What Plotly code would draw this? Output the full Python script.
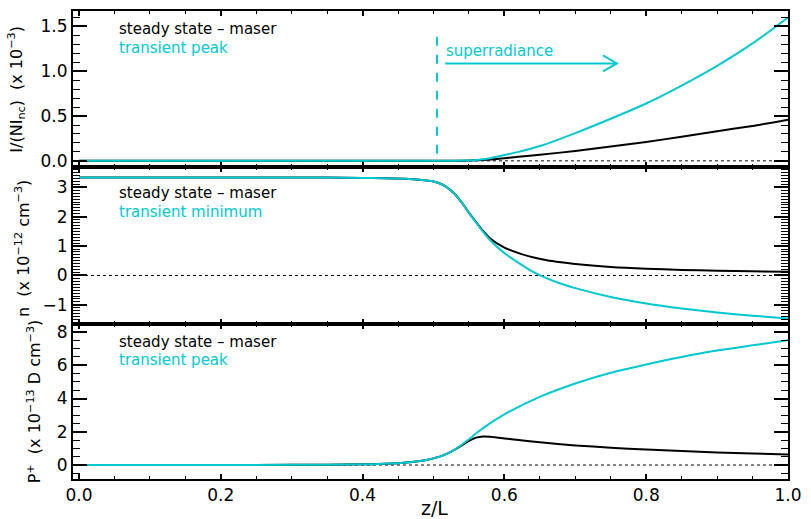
import plotly.graph_objects as go
from plotly.subplots import make_subplots

# ---- intensity I/(N I_nc), units of 1e-3 ----
z_int = [0.0, 0.1, 0.2, 0.3, 0.4, 0.45, 0.5, 0.52, 0.54, 0.56, 0.58, 0.6, 0.62,
         0.65, 0.7, 0.75, 0.8, 0.85, 0.9, 0.95, 1.0]
int_steady = [0, 0, 0, 0, 0, 0, 0, 0.0, 0.002, 0.006, 0.015, 0.03, 0.045,
              0.068, 0.11, 0.16, 0.21, 0.27, 0.33, 0.39, 0.46]
int_transient = [0, 0, 0, 0, 0, 0, 0, 0.0, 0.003, 0.01, 0.03, 0.065, 0.1,
                 0.165, 0.31, 0.47, 0.64, 0.84, 1.06, 1.31, 1.6]

# ---- inversion n, units of 1e-12 cm^-3 ----
z_n = [0.0, 0.1, 0.2, 0.3, 0.35, 0.4, 0.43, 0.46, 0.48, 0.5, 0.51, 0.52, 0.53,
       0.54, 0.55, 0.56, 0.57, 0.58, 0.6, 0.62, 0.64, 0.66, 0.68, 0.7, 0.75,
       0.8, 0.85, 0.9, 0.95, 1.0]
n_steady = [3.33, 3.33, 3.33, 3.33, 3.33, 3.32, 3.31, 3.29, 3.26, 3.2, 3.12,
            2.98, 2.77, 2.48, 2.14, 1.82, 1.52, 1.26, 0.95, 0.76, 0.62, 0.52,
            0.45, 0.39, 0.29, 0.23, 0.19, 0.16, 0.14, 0.13]
n_transient = [3.33, 3.33, 3.33, 3.33, 3.33, 3.32, 3.31, 3.29, 3.26, 3.2, 3.12,
               2.98, 2.77, 2.48, 2.13, 1.8, 1.48, 1.2, 0.76, 0.43, 0.13, -0.1,
               -0.28, -0.43, -0.73, -0.95, -1.12, -1.26, -1.37, -1.46]

# ---- polarization P+, units of 1e-13 D cm^-3 ----
z_p = [0.0, 0.1, 0.2, 0.3, 0.35, 0.4, 0.43, 0.45, 0.47, 0.49, 0.5, 0.51, 0.52,
       0.53, 0.54, 0.55, 0.56, 0.57, 0.58, 0.6, 0.62, 0.65, 0.7, 0.75, 0.8,
       0.85, 0.9, 0.95, 1.0]
p_steady = [0, 0, 0, 0.01, 0.02, 0.04, 0.07, 0.11, 0.18, 0.3, 0.4, 0.52, 0.7,
            0.92, 1.18, 1.45, 1.65, 1.72, 1.7, 1.6, 1.5, 1.37, 1.18, 1.04,
            0.93, 0.84, 0.76, 0.69, 0.63]
p_transient = [0, 0, 0, 0.01, 0.02, 0.04, 0.07, 0.11, 0.18, 0.3, 0.4, 0.52,
               0.7, 0.93, 1.22, 1.55, 1.9, 2.22, 2.52, 3.05, 3.5, 4.1, 4.9,
               5.55, 6.05, 6.5, 6.88, 7.2, 7.5]

BLACK = "#000000"
CYAN = "#00c8cf"
FONT = "DejaVu Sans"

fig = make_subplots(rows=3, cols=1, shared_xaxes=True, vertical_spacing=0)

panels = [
    (z_int, int_steady, int_transient, 1),
    (z_n, n_steady, n_transient, 2),
    (z_p, p_steady, p_transient, 3),
]
for z, ss, tr, row in panels:
    fig.add_trace(go.Scatter(x=z, y=ss, mode="lines",
                             line=dict(color=BLACK, width=2, shape="spline", smoothing=0.6),
                             showlegend=False, hoverinfo="skip"), row=row, col=1)
    fig.add_trace(go.Scatter(x=z, y=tr, mode="lines",
                             line=dict(color=CYAN, width=2, shape="spline", smoothing=0.6),
                             showlegend=False, hoverinfo="skip"), row=row, col=1)
    # dotted zero reference line
    sfx = "" if row == 1 else str(row)
    fig.add_shape(type="line", x0=0, x1=1, y0=0, y1=0, xref="x" + sfx, yref="y" + sfx,
                  line=dict(color=BLACK, width=1, dash="dot"), layer="below")

# superradiance marker in the top panel
fig.add_shape(type="line", x0=0.505, x1=0.505, y0=0.08, y1=1.47, xref="x", yref="y",
              line=dict(color=CYAN, width=2, dash="dash"))
fig.add_shape(type="line", x0=0.5165, x1=0.7587, y0=1.087, y1=1.087, xref="x", yref="y",
              line=dict(color=CYAN, width=2))
fig.add_shape(type="path", xref="x", yref="y",
              path="M 0.7391,1.176 L 0.7587,1.087 L 0.7391,0.998",
              line=dict(color=CYAN, width=2))

domains = [(0.6666, 1.0), (0.3319, 0.6666), (0.0, 0.3319)]
y_setup = [
    dict(range=[-0.069, 1.672], dtick=0.5, fmt=".1f", minor=0.1),
    dict(range=[-1.64, 3.69], dtick=1, fmt="d", minor=0.1),
    dict(range=[-0.84, 8.5], dtick=2, fmt="d", minor=0.5),
]

for i in range(3):
    row = i + 1
    ys = y_setup[i]
    fig.update_yaxes(
        domain=list(domains[i]), range=ys["range"], tickmode="linear", tick0=0,
        dtick=ys["dtick"], tickformat=ys["fmt"],
        ticks="inside", ticklen=14, tickwidth=1.5, tickcolor=BLACK,
        minor=dict(dtick=ys["minor"], tick0=0, ticks="inside", ticklen=7,
                   tickwidth=1.2, tickcolor=BLACK),
        showline=True, linecolor=BLACK, linewidth=2, mirror="allticks",
        showgrid=False, zeroline=False,
        tickfont=dict(family=FONT, size=17, color=BLACK),
        row=row, col=1,
    )
    fig.update_xaxes(
        range=[-0.0084, 1.0], tickmode="linear", tick0=0, dtick=0.2, tickformat=".1f",
        ticks="inside", ticklen=5, tickwidth=1.5, tickcolor=BLACK,
        minor=dict(dtick=0.05, tick0=0, ticks="inside", ticklen=3, tickwidth=1.2,
                   tickcolor=BLACK),
        showline=True, linecolor=BLACK, linewidth=2, mirror="allticks",
        showgrid=False, zeroline=False, showticklabels=(i == 2),
        tickfont=dict(family=FONT, size=17, color=BLACK),
        row=row, col=1,
    )

ann = []


def label(text, x, y, color, yref):
    ann.append(dict(text=text, x=x, y=y, xref="x", yref=yref, xanchor="left", yanchor="middle",
                    showarrow=False, font=dict(family=FONT, size=15, color=color)))


label("steady state \u2013 maser", 0.053, 0.882, BLACK, "y domain")
label("transient peak", 0.053, 0.766, CYAN, "y domain")
label("steady state \u2013 maser", 0.053, 0.832, BLACK, "y2 domain")
label("transient minimum", 0.053, 0.716, CYAN, "y2 domain")
label("steady state \u2013 maser", 0.053, 0.884, BLACK, "y3 domain")
label("transient peak", 0.053, 0.768, CYAN, "y3 domain")

ann.append(dict(text="superradiance", x=0.515, y=1.23, xref="x", yref="y", xanchor="left",
                yanchor="middle", showarrow=False, font=dict(family=FONT, size=15, color=CYAN)))

# axis titles
titles = [
    ("I/(NI<sub>nc</sub>)  (x 10<sup>\u22123</sup>)", 17, 88),
    ("n  (x 10<sup>\u221212</sup> cm<sup>\u22123</sup>)", 23, 248),
    ("P<sup>+</sup>  (x 10<sup>\u221213</sup> D cm<sup>\u22123</sup>)", 34, 401),
]
for text, px, py in titles:
    ann.append(dict(text=text, x=0, xref="paper", xshift=px - 73, y=(479 - py) / 470, yref="paper",
                    xanchor="center", yanchor="middle", textangle=-90, showarrow=False,
                    font=dict(family=FONT, size=16, color=BLACK)))
ann.append(dict(text="z/L", x=0, xref="paper", xshift=434 - 73, y=0, yref="paper", yshift=-(508 - 479),
                xanchor="center", yanchor="middle", showarrow=False,
                font=dict(family=FONT, size=19, color=BLACK)))

fig.update_layout(
    width=811, height=519, margin=dict(l=73, r=16, t=9, b=40),
    paper_bgcolor="white", plot_bgcolor="white", annotations=ann,
)

fig.write_html("out.html")
